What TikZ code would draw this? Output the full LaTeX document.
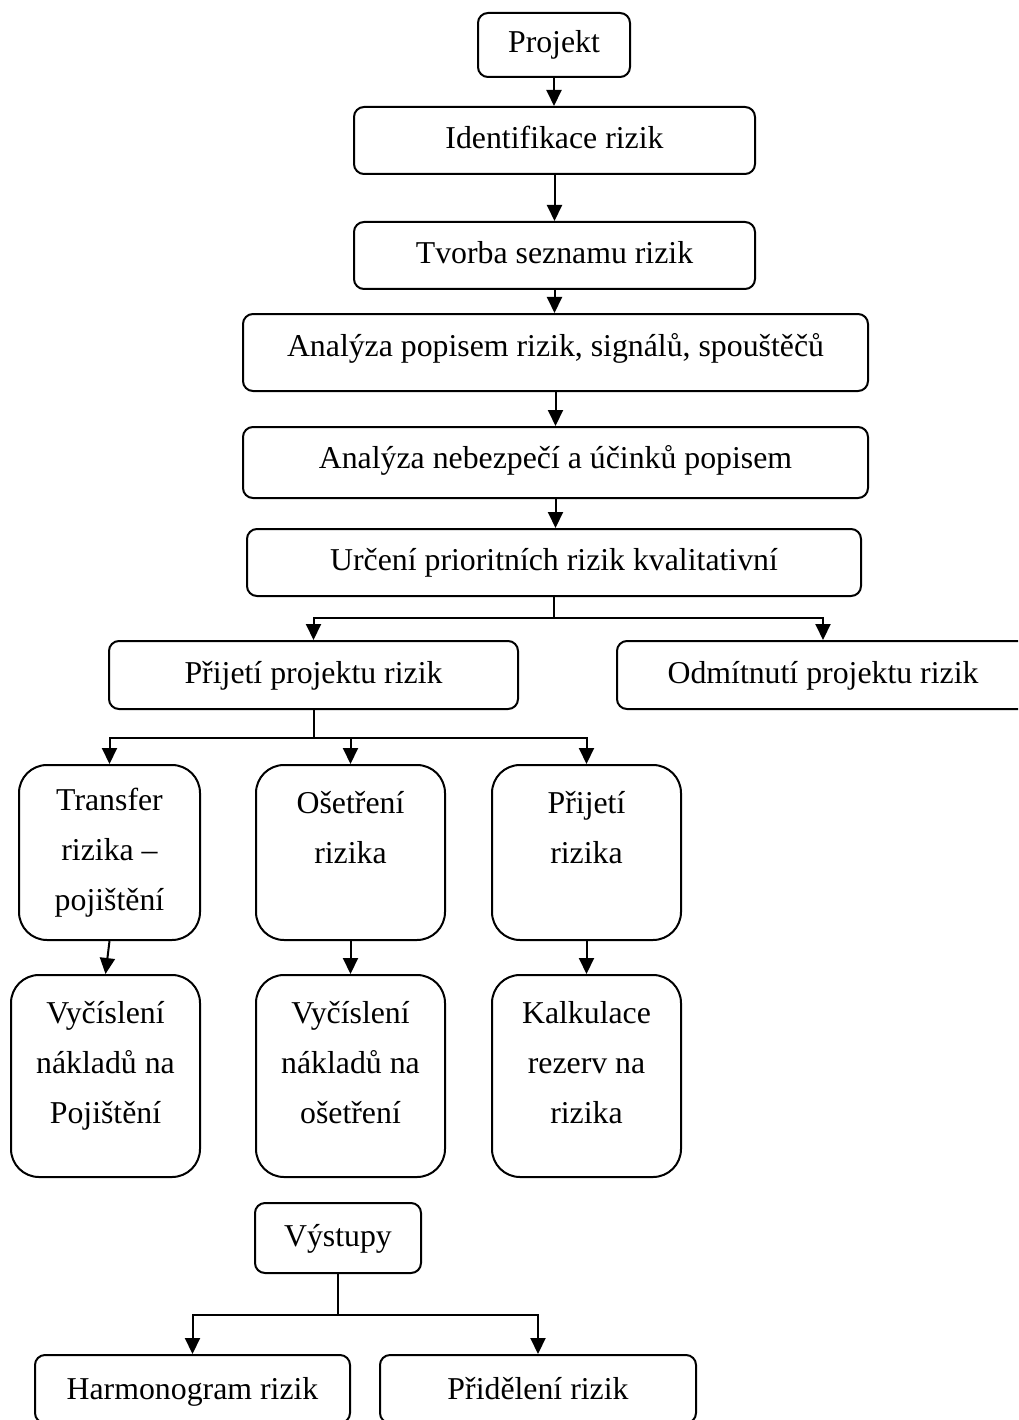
\documentclass[tikz,border=0pt]{standalone}
\usepackage{fontspec}
\setmainfont{Liberation Serif}
\usetikzlibrary{arrows.meta}

\begin{document}
\begin{tikzpicture}[x=1pt,y=-1pt,
  box/.style={draw,line width=2pt,rounded corners=10pt,align=center,
              font=\fontsize{31.8}{50}\selectfont,inner sep=0pt,
              text height=22pt,text depth=6pt},
  tall/.style={box,rounded corners=28pt,minimum width=189pt,
               text height={},text depth={}},
  arr/.style={-{Triangle[length=16pt,width=15pt]},line width=2pt},
  conn/.style={line width=2pt}
]
\useasboundingbox (0,0) rectangle (1018,1420);
\clip (0,0) rectangle (1018,1420);

% Main chain
\node[box,minimum width=152pt,minimum height=64pt] (proj)   at (554,45)      {Projekt};
\node[box,minimum width=401pt,minimum height=67pt] (ident)  at (554.5,140.5) {Identifikace rizik};
\node[box,minimum width=401pt,minimum height=67pt] (seznam) at (554.5,255.5) {Tvorba seznamu rizik};
\node[box,minimum width=625pt,minimum height=77pt,text depth=15pt] (popis) at (555.5,352.5) {Analýza popisem rizik, signálů, spouštěčů};
\node[box,minimum width=625pt,minimum height=71pt,text depth=11pt] (nebez) at (555.5,462.5) {Analýza nebezpečí a účinků popisem};
\node[box,minimum width=614pt,minimum height=67pt] (prior)  at (554,562.5)   {Určení prioritních rizik kvalitativní};
\draw[arr] (proj)   -- (proj |- ident.north);
\draw[arr] (ident)  -- (ident |- seznam.north);
\draw[arr] (seznam) -- (seznam |- popis.north);
\draw[arr] (popis)  -- (popis |- nebez.north);
\draw[arr] (nebez)  -- (nebez |- prior.north);

% Decision
\node[box,minimum width=409pt,minimum height=68pt] (acc) at (313.5,675) {Přijetí projektu rizik};
\node[box,minimum width=412pt,minimum height=68pt] (rej) at (823,675)   {Odmítnutí projektu rizik};
\coordinate (br1) at (554,618);
\draw[conn] (prior) -- (br1);
\draw[arr] (br1) -| (acc.north);
\draw[arr] (br1) -| (rej.north);

% Treatment of risks
\node[tall,minimum width=181pt,minimum height=175pt] (trans) at (109.5,852.5) {Transfer\\rizika –\\pojištění};
\node[tall,minimum height=175pt] (osetr) at (350.5,852.5) {Ošetření\\rizika\\\mbox{}};
\node[tall,minimum height=175pt] (prij)  at (586.5,852.5) {Přijetí\\rizika\\\mbox{}};
\coordinate (br2) at (313.5,738);
\draw[conn] (acc) -- (br2);
\draw[arr] (br2) -| (trans.north);
\draw[arr] (br2) -| (osetr.north);
\draw[arr] (br2) -| (prij.north);

% Costs
\node[tall,minimum height=202pt] (vyc1) at (105.5,1076) {Vyčíslení\\nákladů na\\Pojištění\\[-23pt]\mbox{}};
\node[tall,minimum height=202pt] (vyc2) at (350.5,1076) {Vyčíslení\\nákladů na\\ošetření\\[-23pt]\mbox{}};
\node[tall,minimum height=202pt] (kalk) at (586.5,1076) {Kalkulace\\rezerv na\\rizika\\[-23pt]\mbox{}};
\draw[arr] (trans.south) -- (vyc1.north);
\draw[arr] (osetr) -- (osetr |- vyc2.north);
\draw[arr] (prij)  -- (prij |- kalk.north);

% Outputs
\node[box,minimum width=166pt,minimum height=70pt] (vyst) at (338,1238) {Výstupy};
\node[box,minimum width=315pt,minimum height=68pt,text depth=2pt] (harm) at (192.5,1389) {Harmonogram rizik};
\node[box,minimum width=316pt,minimum height=68pt,text depth=2pt] (prid) at (538,1389)   {Přidělení rizik};
\coordinate (br3) at (338,1315);
\draw[conn] (vyst) -- (br3);
\draw[arr] (br3) -| (harm.north);
\draw[arr] (br3) -| (prid.north);
\end{tikzpicture}
\end{document}
